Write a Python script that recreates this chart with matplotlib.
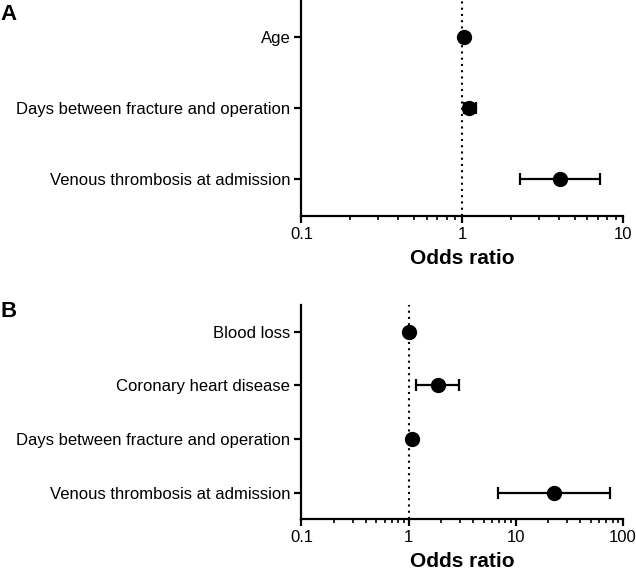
import numpy as np
import matplotlib.pyplot as plt
from matplotlib.ticker import LogLocator, NullFormatter, FixedLocator, FixedFormatter

plt.rcParams['font.family'] = ['Liberation Sans', 'DejaVu Sans']

# panel A data
labels_a = ["Age", "Days between fracture and operation", "Venous thrombosis at admission"]
or_a = [1.02, 1.10, 4.04]
lo_a = [1.01, 1.02, 2.30]
hi_a = [1.03, 1.21, 7.16]

# panel B data
labels_b = ["Blood loss", "Coronary heart disease", "Days between fracture and operation",
            "Venous thrombosis at admission"]
or_b = [1.00, 1.87, 1.08, 22.6]
lo_b = [0.995, 1.18, 1.06, 6.79]
hi_b = [1.005, 2.93, 1.10, 75.1]

fig = plt.figure(figsize=(6.36, 5.73), dpi=100)
ax_a = fig.add_axes([0.474, 0.623, 0.5056, 0.377])
ax_b = fig.add_axes([0.474, 0.0937, 0.5056, 0.374])


def forest(ax, labels, ors, lo, hi, xlim, ticks, ticklabels):
    n = len(labels)
    ypos = np.arange(n, 0, -1)
    ors = np.array(ors)
    err = [ors - np.array(lo), np.array(hi) - ors]
    ax.axvline(1, color='black', linestyle=(0, (1, 2)), lw=1.5, zorder=1)
    ax.errorbar(ors, ypos, xerr=err, fmt='o', color='black', ms=10,
                elinewidth=1.6, capsize=4, capthick=1.6, zorder=3)
    ax.set_xscale('log')
    ax.set_xlim(*xlim)
    ax.set_ylim(0.5 - (0.02 if n == 3 else 0), n + 0.5 + (0.02 if n == 3 else 0))
    ax.set_yticks(ypos)
    ax.set_yticklabels(labels, fontsize=12)
    ax.xaxis.set_major_locator(FixedLocator(ticks))
    ax.xaxis.set_major_formatter(FixedFormatter(ticklabels))
    ax.xaxis.set_minor_locator(LogLocator(base=10, subs=np.arange(2, 10)))
    ax.xaxis.set_minor_formatter(NullFormatter())
    ax.tick_params(axis='x', which='major', length=5, width=1.6, labelsize=12, pad=3)
    ax.tick_params(axis='x', which='minor', length=3, width=1.2)
    ax.tick_params(axis='y', length=5, width=1.6, pad=3)
    for s in ['top', 'right']:
        ax.spines[s].set_visible(False)
    for s in ['left', 'bottom']:
        ax.spines[s].set_linewidth(1.6)
    ax.set_xlabel('Odds ratio', fontsize=15, fontweight='bold', labelpad=5)


forest(ax_a, labels_a, or_a, lo_a, hi_a, (0.1, 10), [0.1, 1, 10], ["0.1", "1", "10"])
forest(ax_b, labels_b, or_b, lo_b, hi_b, (0.1, 100), [0.1, 1, 10, 100],
       ["0.1", "1", "10", "100"])

fig.text(0.0, 0.993, 'A', fontsize=16, fontweight='bold', va='top', ha='left')
fig.text(0.0, 0.475, 'B', fontsize=16, fontweight='bold', va='top', ha='left')

plt.savefig('out.png', dpi=100)
